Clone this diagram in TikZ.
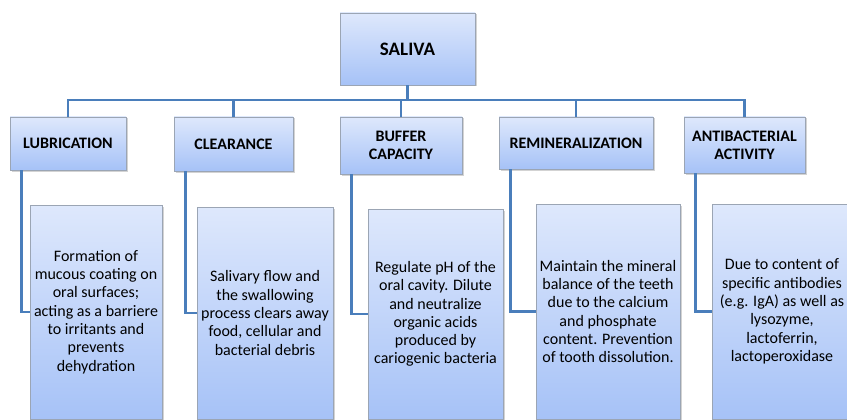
\documentclass[tikz,border=0pt]{standalone}
\usepackage{fontspec}
\setmainfont{Carlito}
\usetikzlibrary{shadows}
\definecolor{boxtop}{RGB}{222,232,252}
\definecolor{boxbottom}{RGB}{166,194,247}
\definecolor{boxline}{RGB}{155,165,180}
\definecolor{linkblue}{RGB}{74,126,187}
\tikzset{
  box/.style = {
    draw=boxline, line width=0.8pt,
    top color=boxtop, bottom color=boxbottom,
    drop shadow={shadow xshift=1.5pt, shadow yshift=-1.5pt, opacity=0.35},
    align=center, inner sep=2pt
  },
  head/.style   = {box, font=\fontsize{16}{18}\selectfont\bfseries},
  detail/.style = {box, font=\fontsize{16}{18.3}\selectfont},
  link/.style   = {draw=linkblue, line width=2.5pt}
}

\begin{document}
\begin{tikzpicture}[x=1pt,y=-1pt]
  \useasboundingbox (0,0) rectangle (847,420);
  % root
  \node[head, font=\fontsize{19}{21}\selectfont\bfseries, minimum width=135pt, minimum height=72pt] (saliva) at (407.5,49) {SALIVA};
  % headers
  \node[head, minimum width=116pt, minimum height=53pt] (lub)    at (68,143.5)  {LUBRICATION};
  \node[head, minimum width=119pt, minimum height=54pt] (clear)  at (233.5,144) {CLEARANCE};
  \node[head, minimum width=122pt, minimum height=57pt] (buffer) at (401,145.5) {BUFFER\\CAPACITY};
  \node[head, minimum width=154pt, minimum height=52pt] (remin)  at (576,143)   {REMINERALIZATION};
  \node[head, minimum width=121pt, minimum height=56pt] (antib)  at (744.5,145) {ANTIBACTERIAL\\ACTIVITY};
  % details
  \node[detail, minimum width=132pt, minimum height=214pt] (dlub)    at (96,312)    {Formation of\\mucous coating on\\oral surfaces;\\acting as a barriere\\to irritants and\\prevents\\dehydration};
  \node[detail, minimum width=136pt, minimum height=212pt] (dclear)  at (265,313)   {Salivary flow and\\the swallowing\\process clears away\\food, cellular and\\bacterial debris};
  \node[detail, minimum width=135pt, minimum height=210pt] (dbuffer) at (435.5,314) {Regulate pH of the\\oral cavity. Dilute\\and neutralize\\organic acids\\produced by\\cariogenic bacteria};
  \node[detail, minimum width=144pt, minimum height=215pt] (dremin)  at (608,311.5) {Maintain the mineral\\balance of the teeth\\due to the calcium\\and phosphate\\content. Prevention\\of tooth dissolution.};
  \node[detail, minimum width=140pt, minimum height=215pt] (dantib)  at (782,311.5) {Due to content of\\specific antibodies\\(e.g. IgA) as well as\\lysozyme,\\lactoferrin,\\lactoperoxidase};
  % tree
  \coordinate (bus) at (407.5,100);
  \foreach \n in {lub,clear,buffer,remin,antib}
    \draw[link] (saliva.south) -- (saliva.south |- bus) -| (\n.north);
  % elbows
  \foreach \n in {lub,clear,buffer,remin,antib}
    \draw[link] ([xshift=12pt]\n.south west) |- (d\n.west);
\end{tikzpicture}
\end{document}
